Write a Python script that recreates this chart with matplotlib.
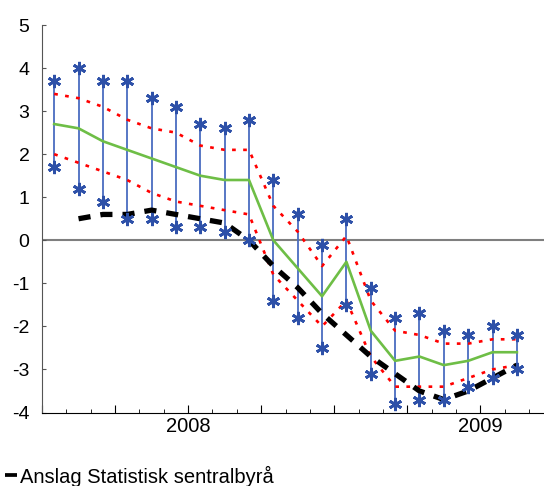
import matplotlib.pyplot as plt
import numpy as np
from matplotlib.lines import Line2D

plt.rcParams['font.family'] = ['Liberation Sans', 'DejaVu Sans']
plt.rcParams['axes.unicode_minus'] = False

# monthly observations, 20 months
high = [3.7, 4.0, 3.7, 3.7, 3.3, 3.1, 2.7, 2.6, 2.8, 1.4,
        0.6, -0.1, 0.5, -1.1, -1.8, -1.7, -2.1, -2.2, -2.0, -2.2]
low = [1.7, 1.2, 0.9, 0.5, 0.5, 0.3, 0.3, 0.2, 0.0, -1.4,
       -1.8, -2.5, -1.5, -3.1, -3.8, -3.7, -3.7, -3.4, -3.2, -3.0]
median = [2.7, 2.6, 2.3, 2.1, 1.9, 1.7, 1.5, 1.4, 1.4, 0.0,
          -0.65, -1.3, -0.5, -2.1, -2.8, -2.7, -2.9, -2.8, -2.6, -2.6]
band_upper = [3.4, 3.3, 3.1, 2.8, 2.6, 2.5, 2.2, 2.1, 2.1, 0.8,
              0.2, -0.6, 0.1, -1.4, -2.1, -2.2, -2.4, -2.4, -2.3, -2.3]
band_lower = [2.0, 1.8, 1.6, 1.4, 1.1, 0.9, 0.8, 0.7, 0.6, -0.8,
              -1.4, -2.0, -1.4, -2.7, -3.4, -3.4, -3.4, -3.2, -3.0, -2.9]
ssb = [np.nan, 0.5, 0.6, 0.6, 0.7, 0.6, 0.5, 0.4, 0.0, -0.6,
       -1.1, -1.7, -2.2, -2.7, -3.1, -3.5, -3.7, -3.5, -3.2, -2.9]
year_labels = ['2008', '2009']
year_pos = [5.5, 17.5]

x = np.arange(len(high))

fig = plt.figure(figsize=(5.44, 4.86), dpi=100)
ax = fig.add_axes([42/544, 73.5/486, 511.4/544, 387.5/486])

ax.axhline(0, color='#7f7f7f', lw=1.5, zorder=1)
ax.vlines(x, low, high, color='#4a6cc0', lw=1.3, zorder=2)
ax.plot(x, band_upper, color='#ff0000', lw=1.9, dashes=(1.4, 2.8), zorder=3)
ax.plot(x, band_lower, color='#ff0000', lw=1.9, dashes=(1.4, 2.8), zorder=3)
ax.plot(x, median, color='#6ebe46', lw=1.9, zorder=4)
ax.plot(x, ssb, color='black', lw=3.8, dashes=(2.3, 1.9), zorder=5)
star = (6, 2, 0)
ax.plot(x, high, ls='none', marker=star, ms=9.5, mew=2, color='#2d50a8', zorder=6)
ax.plot(x, low, ls='none', marker=star, ms=9.5, mew=2, color='#2d50a8', zorder=6)

ax.set_xlim(-0.5, 20.5)
ax.set_ylim(-4, 5)
ax.set_yticks(range(-4, 6))
ax.tick_params(axis='y', direction='in', length=3, pad=9, labelsize=14, color='#555555')

major = np.arange(-0.5, 21, 3)
ax.set_xticks(major)
ax.set_xticklabels([year_labels[year_pos.index(m)] if m in year_pos else '' for m in major])
ax.set_xticks(np.arange(-0.5, 21, 1), minor=True)
ax.tick_params(axis='x', which='major', direction='in', length=6, pad=3.5, labelsize=14.5)
ax.tick_params(axis='x', which='minor', direction='in', length=3)

for s in ['top', 'right']:
    ax.spines[s].set_visible(False)
ax.spines['left'].set_color('#555555')
ax.spines['bottom'].set_color('black')

handle = Line2D([0], [0], color='black', lw=2.7, solid_capstyle='butt')
fig.legend([handle], ['Anslag Statistisk sentralbyrå'], loc='center left',
           bbox_to_anchor=(5/544, 1 - 476/486), frameon=False, fontsize=14.5,
           handlelength=0.6, handletextpad=0.12, borderpad=0, borderaxespad=0)

fig.savefig('out.png', dpi=100)
